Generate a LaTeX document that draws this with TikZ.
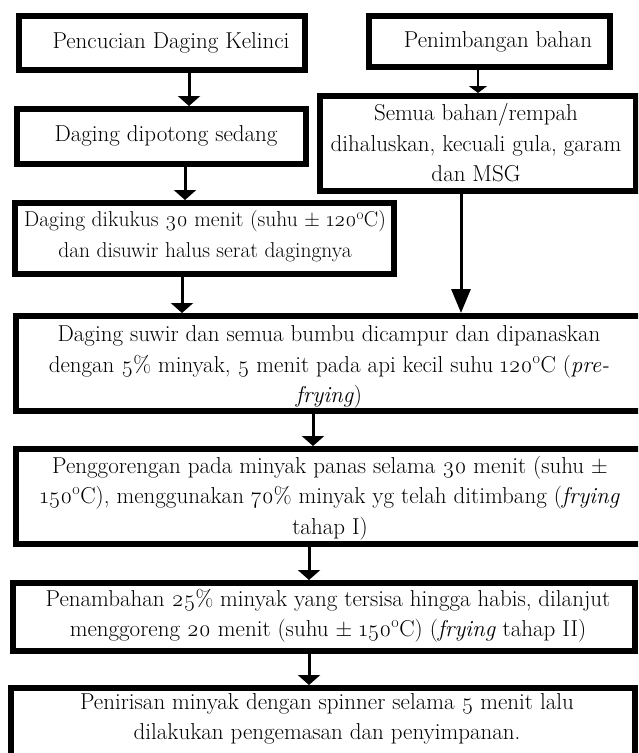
\documentclass[tikz,border=0pt]{standalone}
\usepackage{fontspec}
\setmainfont{Latin Modern Roman}[Numbers=OldStyle]
\usetikzlibrary{arrows.meta}
\tikzset{
  box/.style={draw, line width=6pt, rectangle, inner sep=0pt},
  txt/.style={align=center, inner sep=0pt, font=\fontsize{23}{30.5}\selectfont},
  arr/.style={line width=3pt, -{Triangle[width=22pt,length=10pt]}},
}
\newcommand{\dg}{\textsuperscript{o}}
\begin{document}
\begin{tikzpicture}[x=1pt,y=-1pt]
\useasboundingbox (0,0) rectangle (638,753);
\clip (0,0) rectangle (638,753);
% texts
\node[txt] (t1) at (171,43) {Pencucian Daging Kelinci};
\node[txt] (tp) at (498,42) {Penimbangan bahan};
\node[txt] (t2) at (166,136) {Daging dipotong sedang};
\node[txt] (ts) at (476,143) {Semua bahan/rempah\\dihaluskan, kecuali gula, garam\\dan MSG};
\node[txt, font=\fontsize{21.5}{30.5}\selectfont] (t3) at (205,236) {Daging dikukus 30 menit (suhu ± 120\dg C)\\dan disuwir halus serat dagingnya};
\node[txt] (t4) at (329,367) {Daging suwir dan semua bumbu dicampur dan dipanaskan\\dengan 5\% minyak, 5 menit pada api kecil suhu 120\dg C (\textit{pre-}\\\textit{frying})};
\node[txt] (t5) at (330,498) {Penggorengan pada minyak panas selama 30 menit (suhu ±\\150\dg C), menggunakan 70\% minyak yg telah ditimbang (\textit{frying}\\tahap I)};
\node[txt] (t6) at (328,616) {Penambahan 25\% minyak yang tersisa hingga habis, dilanjut\\menggoreng 20 menit (suhu ± 150\dg C) (\textit{frying} tahap II)};
\node[txt] (t7) at (327,719) {Penirisan minyak dengan spinner selama 5 menit lalu\\dilakukan pengemasan dan penyimpanan.};
% boxes
\node[box, minimum width=286pt, minimum height=54pt] (b1) at (162,43) {};
\node[box, minimum width=241pt, minimum height=51pt] (bp) at (489.5,41.5) {};
\node[box, minimum width=289pt, minimum height=55pt] (b2) at (161.5,136.5) {};
\node[box, minimum width=316pt, minimum height=95pt] (bs) at (478,143.5) {};
\node[box, minimum width=379pt, minimum height=71pt] (b3) at (204.5,238.5) {};
\node[box, minimum width=641pt, minimum height=95pt] (b4) at (336.5,363.5) {};
\node[box, minimum width=641pt, minimum height=95pt] (b5) at (336.5,496.5) {};
\node[box, minimum width=622pt, minimum height=68pt] (b6) at (324,617) {};
\node[box, minimum width=624pt, minimum height=79pt] (b7) at (323,727.5) {};
% arrow columns
\coordinate (c1) at (189,0);
\coordinate (c2) at (185,0);
\coordinate (c3) at (182,0);
\coordinate (cp) at (478,0);
\coordinate (cs) at (461,0);
\coordinate (c4) at (313,0);
\coordinate (c5) at (309,0);
% connectors
\draw[arr] (b1.south -| c1) -- (b2.north -| c1);
\draw[arr] (b2.south -| c2) -- (b3.north -| c2);
\draw[arr] (b3.south -| c3) -- (b4.north -| c3);
\draw[line width=2.5pt, -{Triangle[width=18pt,length=7pt]}] (bp.south -| cp) -- (bs.north -| cp);
\draw[line width=3pt, -{Triangle[width=19pt,length=24pt]}] (bs.south -| cs) -- (b4.north -| cs);
\draw[arr] (b4.south -| c4) -- (b5.north -| c4);
\draw[arr] (b5.south -| c5) -- (b6.north -| c5);
\draw[arr] (b6.south -| c5) -- (b7.north -| c5);
\end{tikzpicture}
\end{document}
